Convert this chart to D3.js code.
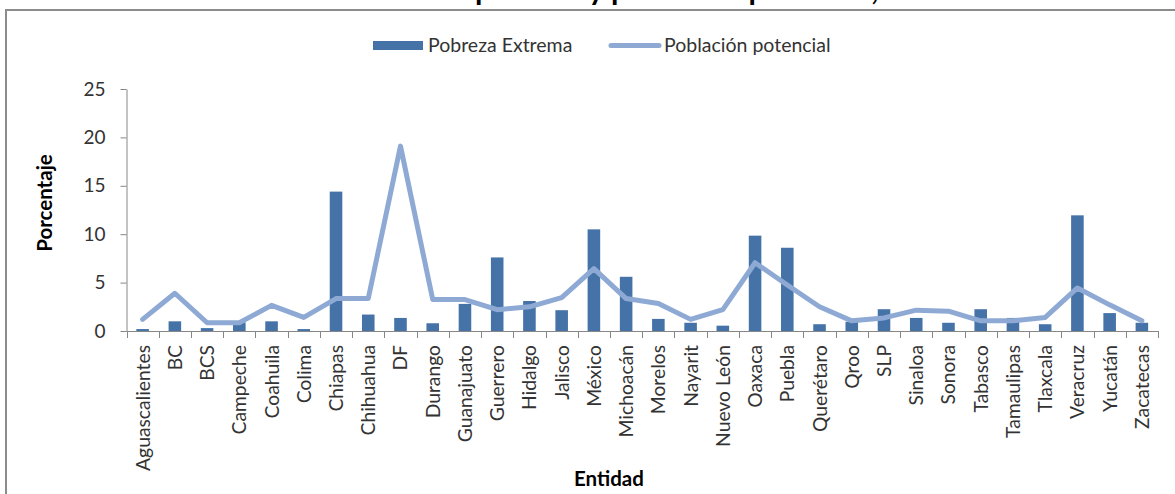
<!DOCTYPE html>
<html>
<head>
<meta charset="utf-8">
<script src="https://cdn.jsdelivr.net/npm/d3@7"></script>
<style>
  body { margin: 0; background: #fff; }
  svg { display: block; font-family: Lato, "Open Sans", sans-serif; }
</style>
</head>
<body>
<div id="chart"></div>
<script>
// data
const entidades = ["Aguascalientes", "BC", "BCS", "Campeche", "Coahuila", "Colima", "Chiapas", "Chihuahua",
  "DF", "Durango", "Guanajuato", "Guerrero", "Hidalgo", "Jalisco", "México", "Michoacán", "Morelos",
  "Nayarit", "Nuevo León", "Oaxaca", "Puebla", "Querétaro", "Qroo", "SLP", "Sinaloa", "Sonora",
  "Tabasco", "Tamaulipas", "Tlaxcala", "Veracruz", "Yucatán", "Zacatecas"];
const pobrezaExtrema = [0.2, 1.0, 0.3, 0.9, 1.0, 0.2, 14.4, 1.7, 1.35, 0.8, 2.8, 7.6, 3.1, 2.15,
  10.5, 5.6, 1.25, 0.85, 0.55, 9.85, 8.6, 0.7, 0.95, 2.25, 1.35, 0.85, 2.25, 1.35, 0.7, 11.95, 1.85, 0.85];
const poblacionPotencial = [1.2, 3.9, 0.85, 0.85, 2.65, 1.4, 3.35, 3.35, 19.1, 3.25, 3.25, 2.2, 2.5, 3.45,
  6.45, 3.35, 2.85, 1.2, 2.2, 7.05, 4.75, 2.5, 1.05, 1.35, 2.15, 2.05, 1.05, 1.05, 1.4, 4.45, 2.7, 1.05];
const yTicks = [0, 5, 10, 15, 20, 25];
const seriesNames = ["Pobreza Extrema", "Población potencial"];

const W = 1175, H = 494;
const BAR = "#4573a8", LINE = "#8eaad4", AXIS = "#878787", TXT = "#333";

const svg = d3.select("#chart").append("svg")
  .attr("width", W).attr("height", H);

svg.append("rect").attr("width", W).attr("height", H).attr("fill", "#fff");

// title, only the bottom of it is inside the picture (cut like in the original)
const title = svg.append("text")
  .attr("y", 0)
  .attr("font-size", 30)
  .attr("font-weight", "bold")
  .attr("fill", "#000")
  .text("Población en pobreza y población potencial, 2010");
const iP = title.text().indexOf("pobreza");
const off = title.node().getSubStringLength(0, iP);
title.attr("x", 475 - off);

// frame
svg.append("rect")
  .attr("x", 6).attr("y", 10)
  .attr("width", W + 20).attr("height", H + 20)
  .attr("fill", "none").attr("stroke", "#8c8c8c").attr("stroke-width", 2);

const x = d3.scaleBand().domain(entidades).range([126.5, 1158]);
const y = d3.scaleLinear().domain([0, 25]).range([331, 89]);

// y axis
const yAx = svg.append("g")
  .attr("transform", "translate(126.5,0)")
  .call(d3.axisLeft(y).tickValues(yTicks).tickSize(6).tickPadding(15).tickSizeOuter(0));
yAx.select(".domain").attr("stroke", AXIS);
yAx.selectAll(".tick line").attr("stroke", AXIS);
yAx.selectAll(".tick text").attr("font-size", 19).attr("fill", TXT).attr("font-family", "Lato");

// bars
const bw = x.bandwidth() * 0.39;
svg.append("g").selectAll("rect")
  .data(entidades)
  .join("rect")
  .attr("x", (d) => x(d) + x.bandwidth() / 2 - bw / 2)
  .attr("y", (d, i) => y(pobrezaExtrema[i]))
  .attr("width", bw)
  .attr("height", (d, i) => y(0) - y(pobrezaExtrema[i]))
  .attr("fill", BAR);

// x axis
svg.append("line")
  .attr("x1", 126.5).attr("x2", 1158)
  .attr("y1", y(0) + 0.5).attr("y2", y(0) + 0.5)
  .attr("stroke", AXIS);
svg.append("g").selectAll("line")
  .data(d3.range(entidades.length + 1))
  .join("line")
  .attr("x1", (i) => Math.round(126.5 + i * x.step()) + 0.5)
  .attr("x2", (i) => Math.round(126.5 + i * x.step()) + 0.5)
  .attr("y1", y(0)).attr("y2", y(0) + 7)
  .attr("stroke", AXIS);

svg.append("g").selectAll("text")
  .data(entidades)
  .join("text")
  .attr("transform", (d) => `translate(${x(d) + x.bandwidth() / 2 + 7},345) rotate(-90)`)
  .attr("text-anchor", "end")
  .attr("font-size", 19.3)
  .attr("fill", TXT)
  .text((d) => d);

// line
const line = d3.line()
  .x((d, i) => x(entidades[i]) + x.bandwidth() / 2)
  .y((d) => y(d));
svg.append("path")
  .datum(poblacionPotencial)
  .attr("d", line)
  .attr("fill", "none")
  .attr("stroke", LINE)
  .attr("stroke-width", 5)
  .attr("stroke-linejoin", "round")
  .attr("stroke-linecap", "round");

// axis titles
svg.append("text")
  .attr("transform", "translate(52,203) rotate(-90)")
  .attr("text-anchor", "middle")
  .attr("font-size", 20.5).attr("font-weight", "bold").attr("fill", "#000")
  .text("Porcentaje");
svg.append("text")
  .attr("x", 609).attr("y", 486)
  .attr("text-anchor", "middle")
  .attr("font-size", 20.5).attr("font-weight", "bold").attr("fill", "#000")
  .text("Entidad");

// legend
const lg = svg.append("g");
lg.append("rect").attr("x", 373).attr("y", 41).attr("width", 50).attr("height", 9).attr("fill", BAR);
lg.append("text").attr("x", 428).attr("y", 52).attr("font-size", 19.5).attr("fill", TXT).text(seriesNames[0]);
lg.append("line").attr("x1", 611).attr("x2", 659).attr("y1", 45.5).attr("y2", 45.5)
  .attr("stroke", LINE).attr("stroke-width", 5).attr("stroke-linecap", "round");
lg.append("text").attr("x", 664).attr("y", 52).attr("font-size", 19.5).attr("fill", TXT).text(seriesNames[1]);
</script>
</body>
</html>
